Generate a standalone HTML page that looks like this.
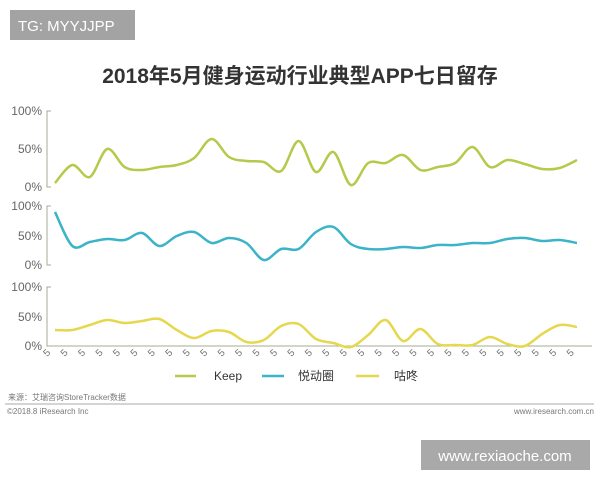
<!DOCTYPE html>
<html><head><meta charset="utf-8"><style>
body{margin:0;width:600px;height:480px;background:#fff;overflow:hidden;font-family:"Liberation Sans","Noto Sans CJK SC",sans-serif}
</style></head><body>
<svg id="s" width="600" height="480" xmlns="http://www.w3.org/2000/svg" font-family="Liberation Sans, Noto Sans CJK SC, sans-serif">
<rect x="10" y="10" width="125" height="30" fill="#a3a3a3"/>
<text x="18" y="31" fill="#fff" font-size="15">TG: MYYJJPP</text>
<text x="300" y="83" text-anchor="middle" font-size="21" font-weight="bold" fill="#333">2018年5月健身运动行业典型APP七日留存</text>
<g fill="#666" font-size="12" text-anchor="end">
<text x="42" y="115">100%</text><text x="42" y="153">50%</text><text x="42" y="191">0%</text>
<text x="42" y="210">100%</text><text x="42" y="240">50%</text><text x="42" y="269">0%</text>
<text x="42" y="291">100%</text><text x="42" y="321">50%</text><text x="42" y="350">0%</text>
</g>
<g stroke="#a8a890" fill="none" stroke-width="1">
<path d="M51 111H47V187H51"/><path d="M51 206H47V265H51"/><path d="M51 287H47V346H592"/>
</g>
<g id="ticks" fill="#777" font-size="10"></g>
<g id="lines" fill="none" stroke-width="2.5" stroke-linejoin="round"></g>
<g font-size="12" fill="#333">
<line x1="175" y1="376" x2="196" y2="376" stroke="#b5c94a" stroke-width="2.5"/><text x="214" y="380">Keep</text>
<line x1="262" y1="376" x2="284" y2="376" stroke="#3bb3c8" stroke-width="2.5"/><text x="298" y="380">悦动圈</text>
<line x1="356" y1="376" x2="379" y2="376" stroke="#e5d84f" stroke-width="2.5"/><text x="394" y="380">咕咚</text>
</g>
<text x="8" y="400" font-size="8" fill="#777">来源：艾瑞咨询StoreTracker数据</text>
<line x1="5" y1="404" x2="594" y2="404" stroke="#aaa" stroke-width="1"/>
<text x="7" y="414" font-size="8" fill="#777">©2018.8 iResearch Inc</text>
<text x="594" y="414" font-size="8" fill="#777" text-anchor="end">www.iresearch.com.cn</text>
<rect x="421" y="440" width="169" height="30" fill="#a9a9a9"/>
<text x="505" y="461" fill="#fff" font-size="15" text-anchor="middle">www.rexiaoche.com</text>
</svg>
<script>
var NS="http://www.w3.org/2000/svg";
var t=document.getElementById('ticks');
for(var i=0;i<31;i++){var x=45+17.45*i;var e=document.createElementNS(NS,'text');e.setAttribute('x',x);e.setAttribute('y',358);e.setAttribute('transform','rotate(-45 '+x+' 355)');e.textContent='5';t.appendChild(e);}
var K=[183,165,177,149,167,170,167,165,158,139,157,161,162,171,141,172,152,185,163,163,155,170,167,163,147,167,160,164,169,168,160];
var Y=[212,246,242,239,240,233,246,236,232,243,238,243,260,249,249,232,227,244,249,249,247,248,245,245,243,243,239,238,241,240,243];
var G=[330,330,325,320,323,321,319,330,338,331,332,342,340,326,324,339,343,347,335,320,341,329,344,345,345,337,344,346,334,325,327];
function path(a){var p=a.map(function(y,i){return [55+17.4*i,y]});var d='M'+p[0][0]+' '+p[0][1];
for(var i=0;i<p.length-1;i++){var p0=p[i-1]||p[i],p1=p[i],p2=p[i+1],p3=p[i+2]||p2;
d+=' C'+(p1[0]+(p2[0]-p0[0])/6)+' '+(p1[1]+(p2[1]-p0[1])/6)+' '+(p2[0]-(p3[0]-p1[0])/6)+' '+(p2[1]-(p3[1]-p1[1])/6)+' '+p2[0]+' '+p2[1];}return d;}
var L=document.getElementById('lines');
[[K,'#b5c94a'],[Y,'#3bb3c8'],[G,'#e5d84f']].forEach(function(s){var e=document.createElementNS(NS,'path');e.setAttribute('d',path(s[0]));e.setAttribute('stroke',s[1]);L.appendChild(e);});
</script>
</body></html>
